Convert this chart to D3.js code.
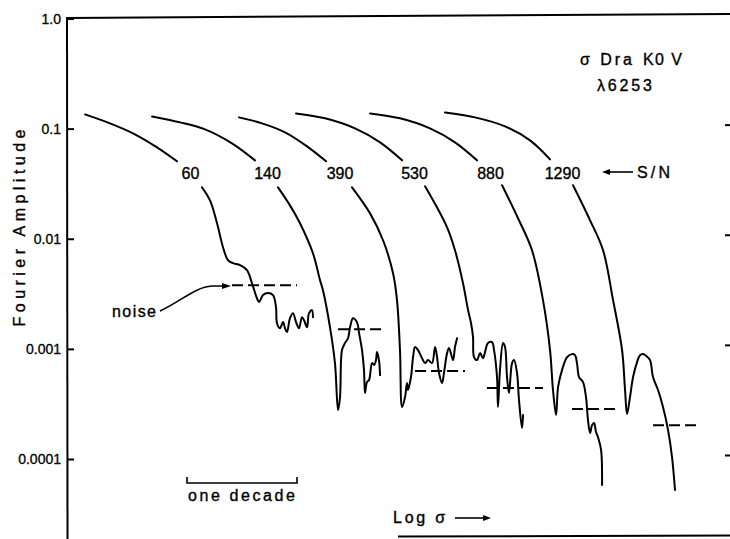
<!DOCTYPE html>
<html><head><meta charset="utf-8">
<script src="https://cdn.jsdelivr.net/npm/d3@7"></script>
<style>
html,body{margin:0;padding:0;background:#fff;}
svg text{font-family:"Liberation Sans",Arial,Helvetica,sans-serif;fill:#000;}
</style></head>
<body><svg id="chart" width="730" height="539"></svg>
<script>
// ---- data: x = log sigma (decades, arbitrary origin), y = Fourier amplitude ----
const snLabels = ["60", "140", "390", "530", "880", "1290"];
const yTickValues = [1, 0.1, 0.01, 0.001, 0.0001];
const yTickLabels = ["1.0", "0.1", "0.01", "0.001", "0.0001"];

const upper60 = [[0.173,0.1346],[0.400,0.1116],[0.609,0.0906],[0.827,0.0676],[1.009,0.0505]];
const lower60 = [[1.236,0.0293],[1.309,0.0223],[1.373,0.01384],[1.427,0.00838],[1.473,0.00638],[1.518,0.0060],[1.582,0.00575],[1.645,0.00518],[1.691,0.00394],[1.736,0.00288],[1.755,0.00266],[1.791,0.00308],[1.836,0.00321],[1.882,0.00308],[1.909,0.00239],[1.918,0.00171],[1.945,0.00154],[1.973,0.00175],[1.991,0.00154],[2.009,0.00142],[2.036,0.0019],[2.064,0.00211],[2.091,0.00175],[2.118,0.00154],[2.145,0.00194],[2.164,0.00182],[2.191,0.00157],[2.209,0.00211],[2.236,0.00225],[2.245,0.00194]];

const upper140 = [[0.782,0.129],[1.036,0.114],[1.264,0.0985],[1.509,0.0735],[1.718,0.0515]];
const lower140 = [[1.927,0.0293],[2.036,0.0201],[2.127,0.01384],[2.245,0.00738],[2.309,0.00421],[2.336,0.00341],[2.4,0.00157],[2.445,0.000743],[2.473,0.000278],[2.491,0.000365],[2.509,0.000975],[2.536,0.00113],[2.564,0.00125],[2.582,0.00157],[2.609,0.0019],[2.645,0.00175],[2.664,0.00139],[2.691,0.000975],[2.709,0.000641],[2.718,0.000397],[2.736,0.000499],[2.755,0.000521],[2.782,0.000743],[2.8,0.000713],[2.818,0.000791],[2.827,0.000935],[2.845,0.000791],[2.855,0.000578]];

const upper390 = [[1.573,0.1265],[1.782,0.1116],[1.991,0.0925],[2.191,0.069],[2.364,0.0505]];
const lower390 = [[2.6,0.0293],[2.764,0.017],[2.882,0.00969],[2.973,0.00486],[3.009,0.00277],[3.036,0.000975],[3.055,0.000296],[3.082,0.000365],[3.1,0.000489],[3.109,0.000423],[3.136,0.000555],[3.155,0.000842],[3.173,0.00104],[3.2,0.000975],[3.236,0.000824],[3.264,0.000743],[3.291,0.000791],[3.327,0.000743],[3.355,0.00104],[3.373,0.000842],[3.391,0.000603],[3.418,0.000489],[3.436,0.000603],[3.464,0.000915],[3.482,0.00102],[3.518,0.000791],[3.536,0.00104],[3.555,0.00125]];

const upper530 = [[2.091,0.1375],[2.355,0.124],[2.627,0.1005],[2.855,0.075],[3.055,0.0515]];
const lower530 = [[3.264,0.0299],[3.464,0.0127],[3.536,0.00787],[3.609,0.00394],[3.655,0.00225],[3.682,0.00171],[3.7,0.00128],[3.709,0.000842],[3.736,0.000791],[3.764,0.000915],[3.791,0.000824],[3.809,0.000935],[3.836,0.00113],[3.873,0.00115],[3.891,0.000975],[3.918,0.000555],[3.927,0.000296],[3.945,0.000641],[3.973,0.00113],[3.991,0.00104],[4.009,0.000555],[4.027,0.000397],[4.055,0.000743],[4.073,0.000791],[4.1,0.000603],[4.118,0.000343],[4.145,0.000191],[4.155,0.000251]];

const upper880 = [[2.764,0.1375],[3.036,0.124],[3.309,0.1005],[3.536,0.075],[3.736,0.0515]];
const lower880 = [[3.964,0.0306],[4.109,0.01535],[4.236,0.00787],[4.336,0.00277],[4.4,0.000975],[4.427,0.000423],[4.455,0.000251],[4.473,0.00045],[4.509,0.000641],[4.555,0.000842],[4.6,0.000896],[4.627,0.000877],[4.645,0.000743],[4.664,0.000555],[4.7,0.000499],[4.727,0.000365],[4.745,0.000226],[4.764,0.000172],[4.782,0.000203],[4.8,0.000212],[4.818,0.000176],[4.836,0.000158],[4.864,0.000121],[4.873,0.000058]];

const upper1290 = [[3.445,0.1403],[3.718,0.1265],[3.991,0.1048],[4.218,0.0782],[4.4,0.0526]];
const lower1290 = [[4.609,0.0306],[4.764,0.0147],[4.882,0.00787],[4.973,0.00277],[5.055,0.000975],[5.082,0.000423],[5.1,0.000256],[5.127,0.000365],[5.155,0.000555],[5.191,0.000759],[5.218,0.000877],[5.245,0.00090],[5.273,0.000865],[5.309,0.000791],[5.336,0.000555],[5.382,0.000423],[5.427,0.000296],[5.473,0.000183],[5.509,0.000104],[5.536,0.0000524]];

const noiseLevel = [0.00379, 0.00151, 0.000628, 0.000441, 0.000284, 0.000203];
const noiseStart = [1.509, 2.473, 3.173, 3.827, 4.6, 5.336];
const noiseEnd   = [2.1, 2.873, 3.627, 4.336, 4.991, 5.755];
const decadeBracket = [1.1, 2.1];

// ---- drawing ----
const svg = d3.select("#chart");
const x = d3.scaleLinear().domain([0, 6.036]).range([66, 730]);
const y = d3.scaleLog().domain([1, 1e-4]).range([18.5, 459]);

const line = d3.line().x(d => x(d[0])).y(d => y(d[1])).curve(d3.curveCatmullRom.alpha(0.5));

const uppers = [upper60, upper140, upper390, upper530, upper880, upper1290];
const lowers = [lower60, lower140, lower390, lower530, lower880, lower1290];

// frame
svg.append("line").attr("x1", 67).attr("y1", 18).attr("x2", 730).attr("y2", 14)
  .attr("stroke", "#000").attr("stroke-width", 2);
svg.append("line").attr("x1", 67).attr("y1", 17).attr("x2", 67.5).attr("y2", 539)
  .attr("stroke", "#000").attr("stroke-width", 2);
svg.append("line").attr("x1", 398).attr("y1", 536.5).attr("x2", 730).attr("y2", 535.5)
  .attr("stroke", "#000").attr("stroke-width", 2);

// left axis ticks + labels
const yAx = svg.append("g").attr("transform", "translate(67,0)")
  .call(d3.axisRight(y).tickValues(yTickValues).tickSize(7).tickFormat(""));
yAx.select(".domain").remove();
yAx.selectAll(".tick line").attr("stroke", "#000").attr("stroke-width", 2);
yTickValues.forEach((v, i) => {
  svg.append("text").attr("x", 61).attr("y", y(v) + 5).attr("text-anchor", "end")
    .attr("font-size", 14).attr("stroke", "#000").attr("stroke-width", 0.3).text(yTickLabels[i]);
});

// right side ticks
const yAxR = svg.append("g").attr("transform", "translate(730,-4)")
  .call(d3.axisLeft(y).tickValues(yTickValues.slice(1)).tickSize(5).tickFormat(""));
yAxR.select(".domain").remove();
yAxR.selectAll(".tick line").attr("stroke", "#000").attr("stroke-width", 2);

// curves
const g = svg.append("g").attr("fill", "none").attr("stroke", "#000")
  .attr("stroke-width", 2).attr("stroke-linejoin", "round").attr("stroke-linecap", "round");
uppers.forEach(d => g.append("path").attr("d", line(d)));
lowers.forEach(d => g.append("path").attr("d", line(d)));

// noise levels (dashed)
noiseLevel.forEach((v, i) => {
  svg.append("line").attr("x1", x(noiseStart[i])).attr("x2", x(noiseEnd[i]))
    .attr("y1", y(v)).attr("y2", y(v))
    .attr("stroke", "#000").attr("stroke-width", 2).attr("stroke-dasharray", "11,5");
});

// S/N labels between the upper and lower parts
snLabels.forEach((s, i) => {
  const a = uppers[i][uppers[i].length - 1], b = lowers[i][0];
  const cx = (x(a[0]) + x(b[0])) / 2 + 1;
  svg.append("text").attr("x", cx).attr("y", 179).attr("text-anchor", "middle")
    .attr("font-size", 16).attr("stroke", "#000").attr("stroke-width", 0.35).text(s);
});

// annotations
const ann = svg.append("g").attr("stroke", "#000").attr("stroke-width", 0.35).attr("font-size", 16);
ann.append("text").attr("x", 637).attr("y", 178).attr("textLength", 33).text("S/N");
svg.append("line").attr("x1", 633).attr("x2", 608).attr("y1", 172).attr("y2", 172)
  .attr("stroke", "#000").attr("stroke-width", 1.6);
svg.append("path").attr("d", "M602,172 L610,169 L610,175 Z").attr("fill", "#000");

ann.append("text").attr("x", 580).attr("y", 65).attr("textLength", 52).text("σ Dra");
ann.append("text").attr("x", 643).attr("y", 65).attr("textLength", 39).text("K0 V");
ann.append("text").attr("x", 597).attr("y", 91).attr("textLength", 55).text("λ6253");

ann.append("text").attr("x", 112).attr("y", 317).attr("textLength", 44).text("noise");
svg.append("path").attr("d", "M160,311 C180,302 195,287 212,286 L224,286")
  .attr("fill", "none").attr("stroke", "#000").attr("stroke-width", 1.6);
svg.append("path").attr("d", "M231,286 L222,283 L222,289 Z").attr("fill", "#000");

// one decade bracket (via x scale)
const bx0 = x(decadeBracket[0]), bx1 = x(decadeBracket[1]);
svg.append("path").attr("d", `M${bx0},477 L${bx0},483 L${bx1},483 L${bx1},477`)
  .attr("fill", "none").attr("stroke", "#000").attr("stroke-width", 1.6);
ann.append("text").attr("x", 188).attr("y", 501).attr("textLength", 107).text("one decade");

// x-axis label
ann.append("text").attr("x", 393).attr("y", 523).attr("textLength", 52).text("Log σ");
svg.append("line").attr("x1", 455).attr("x2", 485).attr("y1", 518).attr("y2", 518)
  .attr("stroke", "#000").attr("stroke-width", 1.6);
svg.append("path").attr("d", "M491,518 L483,515 L483,521 Z").attr("fill", "#000");

// y-axis label
ann.append("text").attr("transform", "translate(25,228) rotate(-90)")
  .attr("text-anchor", "middle").attr("textLength", 197).text("Fourier  Amplitude");
</script></body></html>
